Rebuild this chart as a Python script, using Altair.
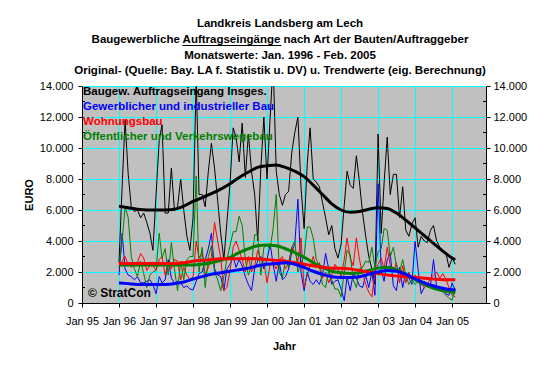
import altair as alt
import pandas as pd

# ---------------- data (monthly, Jan 1996 - Feb 2005) ----------------
insges = [2600, 7500, 11800, 8300, 6200, 5900, 6000, 5500, 5800, 5200, 4500, 3400,
          7000, 10500, 11500, 5800, 5800, 8700, 6000, 6200, 8000, 6000, 4300, 3400,
          5500, 14500, 7000, 7000, 6200, 8500, 10300, 8700, 6600, 4500, 2800, 5200,
          7700, 11300, 10700, 9100, 11600, 8100, 10900, 8500, 7000, 4000, 8700, 12000,
          8000, 12000, 15500, 8500, 7000, 6300, 7000, 7200, 9700, 11000, 12000, 7500,
          4800, 9000, 11300, 8000, 7800, 7500, 6500, 5500, 4400, 5000, 3500, 2900,
          3800, 6300, 8500, 7600, 7400, 9500, 7800, 5800, 4300, 3000, 2200, 1200,
          10900, 4500, 7700, 10700, 7000, 8300, 8300, 5500, 7500, 4700, 4300, 5100,
          5500, 3600, 4300, 4000, 3900, 4700, 5000, 4000, 3600, 3400, 3200, 2300,
          2900, 2500]
gewerbe = [1800, 4500, 2200, 1800, 1700, 1500, 1700, 1300, 1300, 1400, 1500, 1200,
           600, 1700, 1300, 1500, 2800, 1600, 1300, 1400, 1300, 1000, 1100, 900,
           840, 1400, 1900, 2000, 2800, 3500, 4500, 2200, 1800, 1700, 800, 2200,
           2500, 3000, 2300, 2800, 2400, 1700, 1200, 800, 2200, 2700, 3000, 2200,
           2800, 3800, 2500, 1400, 2600, 1500, 1700, 2200, 3300, 3800, 6700, 2000,
           800, 2000, 1400, 1200, 1500, 1200, 1800, 3200, 2200, 1200, 1400, 1500,
           900, 150, 1700, 800, 1900, 1600, 1100, 1000, 1800, 1000, 2000, 500,
           7700, 2100, 1400, 2800, 3200, 1100, 800, 2300, 1000, 2000, 1600, 1200,
           4000, 2100, 600, 1000, 1200, 1100, 2800, 1000, 800, 900, 600, 500,
           1300, 800]
wohnung = [2300, 2700, 3000, 2500, 2300, 2500, 2600, 3200, 2900, 2100, 2400, 2400,
           2100, 2800, 3000, 1800, 2600, 2200, 2800, 2700, 1500, 2300, 1800, 1500,
           1700, 4000, 2900, 3300, 1800, 2300, 3000, 5200, 4000, 2900, 800, 1000,
           2100, 3600, 4000, 3400, 2800, 2000, 3000, 2000, 2400, 3400, 2800, 2700,
           1300, 2500, 2600, 2200, 2800, 3000, 2200, 2600, 3600, 3300, 2700, 4200,
           1000, 1800, 2400, 3000, 2300, 2600, 1600, 2000, 1300, 1800, 2500, 2200,
           1700, 2800, 4200, 2900, 2400, 4200, 2800, 1900, 1200, 700, 400, 2000,
           2500, 2900, 2200, 3600, 2400, 2000, 2600, 1300, 2400, 1300, 2000, 1500,
           1800, 1500, 1200, 1000, 1200, 1600, 1800, 2000, 1600, 1900, 1500, 1000,
           500, 400]
oeffentl = [2300, 4000, 6200, 5500, 3000, 2200, 1700, 2700, 1900, 1000, 1800, 2000,
            2100, 4500, 2900, 3500, 1800, 3900, 2200, 800, 2700, 1500, 2800, 3000,
            3000, 8200, 2000, 3600, 1000, 3000, 3700, 2000, 1500, 800, 1700, 2800,
            3700, 4600, 4600, 5600, 5000, 2800, 1800, 2500, 4400, 4400, 1800, 3600,
            3700, 3500, 4800, 7000, 2000, 1600, 2800, 2300, 3600, 4000, 2000, 2600,
            3000, 4900, 4900, 4200, 2800, 2400, 1200, 1000, 2100, 1500, 900, 900,
            400, 2000, 3400, 3100, 1500, 1000, 2200, 2300, 2700, 2600, 3600, 2300,
            3300, 3500, 4800, 4700, 3000, 3600, 2400, 2000, 2800, 1800, 1200, 1500,
            1200, 1400, 1200, 1400, 1000, 1100, 1200, 900, 800, 700, 500, 300,
            200, 900]

# trend values read quarterly (month index from Jan 1996)
trend_idx = [0, 3, 6, 9, 12, 15, 18, 21, 24, 27, 30, 33, 36, 39, 42, 45, 48, 51, 54,
             57, 60, 63, 66, 69, 72, 75, 78, 81, 84, 87, 90, 93, 96, 99, 102, 105, 108, 109]
trend_insges = [6250, 6150, 6050, 6000, 6000, 6000, 6050, 6250, 6550, 6800, 7050, 7350,
                7700, 8100, 8450, 8750, 8850, 8900, 8750, 8500, 8150, 7600, 7000, 6400,
                6000, 5850, 5900, 6050, 6150, 6100, 5800, 5350, 4850, 4350, 3850, 3350,
                2900, 2800]
trend_gewerbe = [1300, 1250, 1200, 1200, 1200, 1200, 1250, 1350, 1550, 1700, 1850, 1950,
                 2050, 2150, 2250, 2400, 2500, 2550, 2600, 2500, 2300, 2050, 1850, 1700,
                 1650, 1650, 1700, 1850, 2000, 2100, 2050, 1850, 1550, 1300, 1100, 950,
                 850, 850]
trend_wohnung = [2550, 2550, 2550, 2550, 2550, 2550, 2550, 2600, 2700, 2750, 2800, 2850,
                 2850, 2850, 2850, 2850, 2800, 2750, 2700, 2600, 2500, 2400, 2300, 2250,
                 2250, 2200, 2100, 2000, 1900, 1800, 1750, 1700, 1650, 1600, 1550, 1500,
                 1500, 1500]
trend_oeffentl = [2450, 2450, 2450, 2450, 2450, 2450, 2450, 2450, 2450, 2500, 2600, 2750,
                  2950, 3250, 3500, 3700, 3750, 3700, 3500, 3250, 2950, 2600, 2300, 2050,
                  1950, 1900, 1950, 2100, 2250, 2300, 2150, 1850, 1500, 1200, 950, 800,
                  700, 650]

year_ticks = list(range(1995, 2006))
minor_y_ticks = [1000, 3000, 5000, 7000, 9000, 11000, 13000]
title_lines = ["Landkreis Landsberg am Lech",
               "Baugewerbliche Auftragseingänge nach Art der Bauten/Auftraggeber",
               "Monatswerte: Jan. 1996 - Feb. 2005",
               "Original- (Quelle: Bay. LA f. Statistik u. DV) u. Trendwerte (eig.  Berechnung)"]
legend_labels = ["Baugew. Auftragseingang Insges.",
                 "Gewerblicher und industrieller Bau",
                 "Wohnungsbau",
                 "Öffentlicher und Verkehrswegebau"]
colors = ["#000000", "#0000FF", "#FF0000", "#008000"]

for s in (insges, gewerbe, wohnung, oeffentl):
    assert len(s) == 110
for s in (trend_insges, trend_gewerbe, trend_wohnung, trend_oeffentl):
    assert len(s) == len(trend_idx)

months = pd.date_range("1996-01-01", periods=110, freq="MS").strftime("%Y-%m-%d").tolist()
trend_dates = [months[i] for i in trend_idx]

W, H = 404, 217
FONT = "Liberation Sans"

x_scale = alt.Scale(type="utc",
                    domain=[alt.DateTime(year=1995, month=1, date=1, utc=True),
                            alt.DateTime(year=2005, month=12, date=1, utc=True)])
y_scale = alt.Scale(domain=[0, 14000], nice=False)

x_axis = alt.Axis(values=[alt.DateTime(year=y, month=1, date=1, utc=True) for y in year_ticks],
                  labelExpr="utcFormat(datum.value, '%b %y')", labelOverlap=False,
                  labelFlush=False,
                  grid=True, gridColor="#00FFFF", gridWidth=1,
                  domainColor="black", tickColor="black", tickSize=4,
                  labelFontSize=11, labelColor="black", labelPadding=8,
                  title="Jahr", titleFontSize=11, titleFontWeight="bold", titleY=37)
x_enc = alt.X("date:T", scale=x_scale, axis=x_axis)

thousands = "replace(format(datum.value, ','), ',', '.')"
y_left = alt.Axis(values=list(range(0, 14001, 2000)), labelExpr=thousands,
                  labelOverlap=False, labelFlush=False,
                  grid=True, gridColor="#00FFFF", gridWidth=1,
                  domainColor="black", tickColor="black", tickSize=4,
                  labelFontSize=11, labelColor="black", labelPadding=5,
                  title="EURO", titleFontSize=11, titleFontWeight="bold",
                  titleX=-48, titleY=H / 2)
y_right = alt.Axis(orient="right", values=list(range(0, 14001, 2000)), labelExpr=thousands,
                   labelOverlap=False, labelFlush=False,
                   grid=False, domainColor="black", tickColor="black", tickSize=4,
                   labelFontSize=11, labelColor="black", labelPadding=3, title="")


def raw_df(vals):
    return pd.DataFrame({"date": months, "v": vals})


def trend_df(vals):
    return pd.DataFrame({"date": trend_dates, "v": vals})


def line(df, color, width, axis=None, smooth=False):
    mk = alt.Chart(df).mark_line(color=color, strokeWidth=width, clip=True,
                                 interpolate="monotone" if smooth else "linear")
    if axis is None:
        y = alt.Y("v:Q", scale=y_scale, axis=None)
    else:
        y = alt.Y("v:Q", scale=y_scale, axis=axis)
    return mk.encode(x=x_enc, y=y)


layers = [
    line(raw_df(insges), colors[0], 1, axis=y_left),
    line(raw_df(gewerbe), colors[1], 1),
    line(raw_df(wohnung), colors[2], 1),
    line(raw_df(oeffentl), colors[3], 1),
    line(trend_df(trend_insges), colors[0], 3, axis=y_right, smooth=True),
    line(trend_df(trend_oeffentl), colors[3], 3, smooth=True),
    line(trend_df(trend_wohnung), colors[2], 3, smooth=True),
    line(trend_df(trend_gewerbe), colors[1], 3, smooth=True),
]

# minor ticks on both value axes (inside the plot)
minor_df = pd.DataFrame({"v": minor_y_ticks})
layers.append(alt.Chart(minor_df).mark_rule(color="black", strokeWidth=1).encode(
    y=alt.Y("v:Q", scale=y_scale, axis=None), x=alt.value(0), x2=alt.value(3)))
layers.append(alt.Chart(minor_df).mark_rule(color="black", strokeWidth=1).encode(
    y=alt.Y("v:Q", scale=y_scale, axis=None), x=alt.value(W - 3), x2=alt.value(W)))

# legend texts inside the plot area
for i, (lab, col) in enumerate(zip(legend_labels, colors)):
    layers.append(
        alt.Chart(pd.DataFrame({"t": [lab]})).mark_text(
            align="left", baseline="middle", fontWeight="bold", fontSize=11.5,
            color=col, font=FONT
        ).encode(x=alt.value(1), y=alt.value(6 + 15 * i), text="t:N")
    )

layers.append(
    alt.Chart(pd.DataFrame({"t": ["© StratCon"]})).mark_text(
        align="left", baseline="middle", fontWeight="bold", fontSize=12,
        color="black", font=FONT
    ).encode(x=alt.value(6), y=alt.value(H - 10), text="t:N")
)

# chart title: four centred bold lines
for i, t in enumerate(title_lines):
    layers.append(
        alt.Chart(pd.DataFrame({"t": [t]})).mark_text(
            align="center", baseline="middle", fontWeight="bold", fontSize=11.5,
            color="black", font=FONT
        ).encode(x=alt.value(198), y=alt.value(-62 + 15.8 * i), text="t:N")
    )

# underline of "Auftragseingänge" in the 2nd title line
layers.append(
    alt.Chart(pd.DataFrame({"u": [1]})).mark_rule(color="black", strokeWidth=1).encode(
        x=alt.value(100.5), x2=alt.value(199.5), y=alt.value(-40.5)
    )
)

chart = alt.layer(*layers).resolve_axis(y="independent").properties(
    width=W, height=H,
    autosize=alt.AutoSizeParams(type="none"),
    padding={"left": 74, "top": 78, "right": 66, "bottom": 60},
    background="white",
).configure(font=FONT).configure_view(fill="#C0C0C0", stroke="#808080", strokeWidth=1)

chart.save("out.html", embed_options={"renderer": "svg", "actions": False})
